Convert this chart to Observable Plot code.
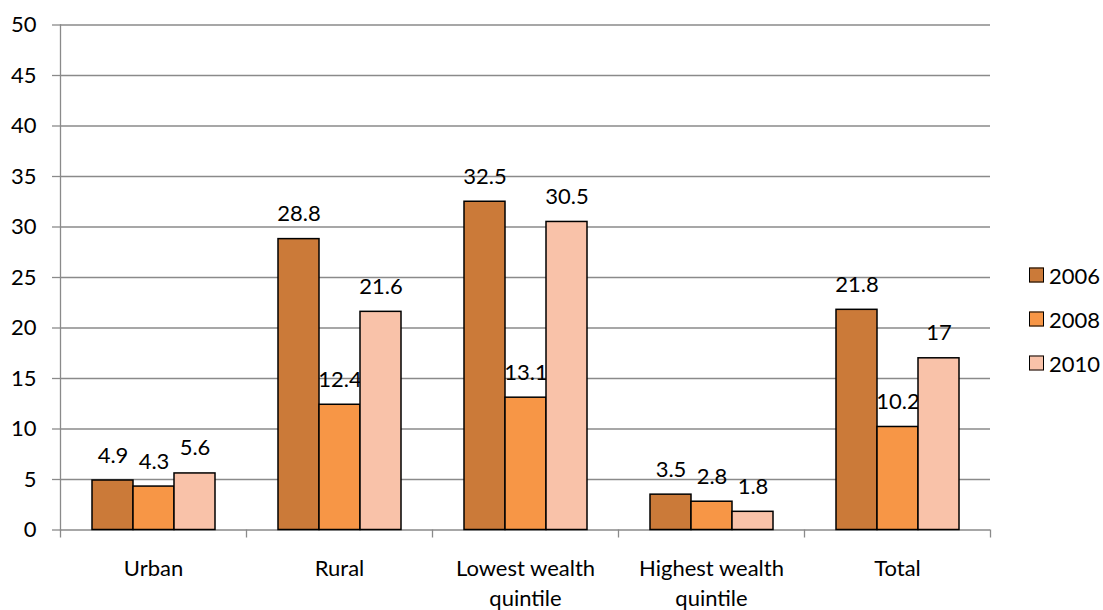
<!DOCTYPE html>
<html>
<head>
<meta charset="utf-8">
<script src="https://cdn.jsdelivr.net/npm/d3@7"></script>
<script src="https://cdn.jsdelivr.net/npm/@observablehq/plot@0.6"></script>
<style>
  html, body { margin: 0; padding: 0; background: #fff; }
  #chart { position: relative; width: 1103px; height: 610px; font-family: Lato, "Open Sans", sans-serif; }
  .legend { position: absolute; left: 1029px; top: 0; font-size: 22px; color: #000; }
  .legend .row { position: absolute; left: 0; display: flex; align-items: center; white-space: nowrap; transform: translateY(-50%); }
  .legend .swatch { width: 13px; height: 13px; border: 1.5px solid #000; margin-right: 5px; }
</style>
</head>
<body>
<div id="chart"></div>
<script>
// Categories and survey years
const categories = ["Urban", "Rural", "Lowest wealth\nquintile", "Highest wealth\nquintile", "Total"];
const years = ["2006", "2008", "2010"];

// Values per year, in category order
const values2006 = [4.9, 28.8, 32.5, 3.5, 21.8];
const values2008 = [4.3, 12.4, 13.1, 2.8, 10.2];
const values2010 = [5.6, 21.6, 30.5, 1.8, 17];

const yTicks = [0, 5, 10, 15, 20, 25, 30, 35, 40, 45, 50];
const colors = ["#CB7A39", "#F79646", "#F9C2A9"];

const series = {"2006": values2006, "2008": values2008, "2010": values2010};
const data = years.flatMap(year =>
  categories.map((category, i) => ({category, year, value: series[year][i]}))
);

const width = 1103, height = 610;
const marginLeft = 60, marginRight = 113, marginTop = 24.5, marginBottom = 80.5;
const halfStep = (width - marginLeft - marginRight) / categories.length / 2;
const gray = "#8a8a8a";
const blank = () => "";

const chart = Plot.plot({
  width, height, marginLeft, marginRight, marginTop, marginBottom,
  style: {fontFamily: "Lato, 'Open Sans', sans-serif", fontSize: "22px", color: "#000", background: "#fff", overflow: "visible"},
  fx: {domain: categories, padding: 0, label: null},
  x: {domain: years, paddingInner: 0, paddingOuter: 0.75, axis: null},
  y: {domain: [0, 50], label: null},
  color: {domain: years, range: colors},
  marks: [
    Plot.gridY(yTicks, {stroke: gray, strokeOpacity: 1, strokeWidth: 1.3}),
    Plot.axisY(yTicks, {tickSize: 8, tickPadding: 16, stroke: gray, strokeWidth: 1.3, fill: "#000", label: null}),
    Plot.frame({anchor: "left", facetAnchor: "left", stroke: gray, strokeWidth: 1.3}),
    // boundary ticks between category groups
    Plot.axisFx({anchor: "bottom", tickFormat: blank, tickSize: 8, dx: -halfStep, stroke: gray, strokeWidth: 1.3, label: null}),
    Plot.axisFx({anchor: "bottom", ticks: [categories[categories.length - 1]], tickFormat: blank, tickSize: 8, dx: halfStep, stroke: gray, strokeWidth: 1.3, label: null}),
    // category names
    Plot.axisFx({anchor: "bottom", tickSize: 0, tickPadding: 25, lineHeight: 1.36, fill: "#000", label: null}),
    Plot.text(data, {fx: "category", x: "year", y: "value", text: d => String(d.value), dy: -25, fill: "#000"}),
    Plot.barY(data, {fx: "category", x: "year", y: "value", fill: "year", stroke: "#000", strokeWidth: 1.5})
  ]
});

const root = document.getElementById("chart");
root.appendChild(chart);

// Legend at the right
const legend = d3.select(root).append("div").attr("class", "legend");
const rowCenters = [275, 319, 363];
years.forEach((year, i) => {
  const row = legend.append("div").attr("class", "row").style("top", rowCenters[i] + "px");
  row.append("div").attr("class", "swatch").style("background", colors[i]);
  row.append("span").text(year);
});
</script>
</body>
</html>
